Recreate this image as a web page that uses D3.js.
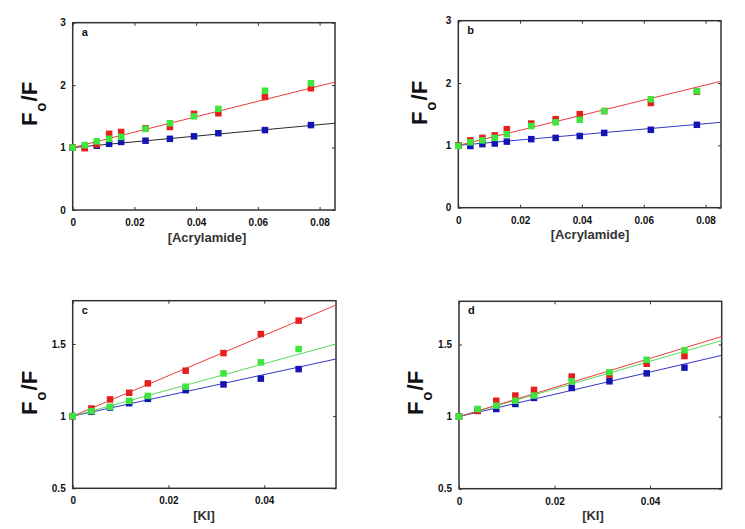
<!DOCTYPE html>
<html>
<head>
<meta charset="utf-8">
<script src="https://cdn.jsdelivr.net/npm/d3@7"></script>
<style>
  body { margin: 0; background: #fff; }
  svg { display: block; font-family: "Liberation Sans", Arial, sans-serif; }
</style>
</head>
<body>
<svg id="chart" width="745" height="529"></svg>
<script>
// ---------- data ----------
const xAcrylamide = [0, 0.0039, 0.0078, 0.0118, 0.0157, 0.0236, 0.0315, 0.0393, 0.0472, 0.0623, 0.0772];
const xKI = [0, 0.0039, 0.0078, 0.0118, 0.0157, 0.0236, 0.0315, 0.0393, 0.0472];

const blueA  = [1.00, 1.01, 1.03, 1.06, 1.09, 1.11, 1.14, 1.18, 1.23, 1.28, 1.36];
const redA   = [1.00, 0.99, 1.05, 1.22, 1.25, 1.31, 1.33, 1.54, 1.55, 1.81, 1.95];
const greenA = [1.00, 1.04, 1.10, 1.14, 1.17, 1.30, 1.39, 1.50, 1.62, 1.91, 2.03];

const blueB  = [1.00, 0.99, 1.02, 1.03, 1.06, 1.10, 1.12, 1.15, 1.20, 1.25, 1.33];
const redB   = [1.00, 1.08, 1.12, 1.16, 1.26, 1.35, 1.42, 1.50, 1.55, 1.68, 1.86];
const greenB = [0.99, 1.05, 1.08, 1.12, 1.18, 1.31, 1.37, 1.41, 1.55, 1.74, 1.87];

const blueC  = [1.00, 1.03, 1.06, 1.09, 1.12, 1.18, 1.22, 1.26, 1.326];
const redC   = [1.00, 1.053, 1.116, 1.162, 1.227, 1.315, 1.437, 1.569, 1.662];
const greenC = [1.00, 1.035, 1.065, 1.106, 1.14, 1.204, 1.296, 1.373, 1.465];

const blueD  = [1.00, 1.04, 1.053, 1.088, 1.13, 1.199, 1.245, 1.30, 1.34];
const redD   = [1.00, 1.04, 1.11, 1.146, 1.185, 1.278, 1.29, 1.367, 1.42];
const greenD = [1.00, 1.053, 1.076, 1.11, 1.146, 1.245, 1.308, 1.394, 1.46];

// Stern-Volmer fit slopes (F0/F = 1 + K[Q])
const ksvA = { red: 12.35, dark: 4.59 };
const ksvB = { red: 12.1, blue: 4.35 };
const ksvC = { red: 14.0, green: 9.09, blue: 7.2 };
const ksvD = { red: 10.1, green: 9.6, blue: 7.73 };

const xTicksAcr = [0, 0.02, 0.04, 0.06, 0.08];
const xTicksKI = [0, 0.02, 0.04];
const yTicksAcr = [0, 1, 2, 3];
const yTicksKI = [0.5, 1, 1.5];

// ---------- style ----------
const COL = {
  redPt: "#e61e1e", greenPt: "#3de63d", bluePt: "#1414b4",
  redLn: "#ee3c3c", greenLn: "#5ad85a", blueLn: "#3535c8", darkLn: "#2a2a2a"
};

const svg = d3.select("#chart");

const panels = [
  { id: "a", box: [72.7, 22.7, 335, 210], xd: [0, 0.085], yd: [0, 3], xt: xTicksAcr, yt: yTicksAcr,
    x: xAcrylamide, series: [["bluePt", blueA], ["redPt", redA], ["greenPt", greenA]],
    lines: [["darkLn", ksvA.dark], ["redLn", ksvA.red]], xlabel: "[Acrylamide]",
    xlab: [207, 242], ylab: [37, 104] },
  { id: "b", box: [458.3, 20.7, 721, 207.7], xd: [0, 0.085], yd: [0, 3], xt: xTicksAcr, yt: yTicksAcr,
    x: xAcrylamide, series: [["bluePt", blueB], ["redPt", redB], ["greenPt", greenB]],
    lines: [["blueLn", ksvB.blue], ["redLn", ksvB.red]], xlabel: "[Acrylamide]",
    xlab: [590, 239], ylab: [427, 103] },
  { id: "c", box: [72.7, 300.7, 336, 488.3], xd: [0, 0.055], yd: [0.5, 1.8], xt: xTicksKI, yt: yTicksKI,
    x: xKI, series: [["bluePt", blueC], ["redPt", redC], ["greenPt", greenC]],
    lines: [["blueLn", ksvC.blue], ["greenLn", ksvC.green], ["redLn", ksvC.red]], xlabel: "[KI]",
    xlab: [204, 520], ylab: [37, 393] },
  { id: "d", box: [459, 301.3, 721.7, 488.7], xd: [0, 0.055], yd: [0.5, 1.8], xt: xTicksKI, yt: yTicksKI,
    x: xKI, series: [["bluePt", blueD], ["redPt", redD], ["greenPt", greenD]],
    lines: [["blueLn", ksvD.blue], ["greenLn", ksvD.green], ["redLn", ksvD.red]], xlabel: "[KI]",
    xlab: [593, 520], ylab: [423, 393] }
];

const fmt = v => v === 0 ? "0" : String(v);

panels.forEach(p => {
  const [l, t, r, b] = p.box;
  const xs = d3.scaleLinear().domain(p.xd).range([l, r]);
  const ys = d3.scaleLinear().domain(p.yd).range([b, t]);
  const g = svg.append("g");

  const styleAxis = sel => {
    sel.select(".domain").remove();
    sel.selectAll("line").attr("stroke", "#333").attr("stroke-width", 1);
    sel.selectAll("text").attr("font-size", 10).attr("font-weight", "bold")
      .attr("fill", "#111").attr("font-family", "'Liberation Sans', Arial, sans-serif");
  };
  g.append("g").attr("transform", `translate(0,${b})`)
    .call(d3.axisBottom(xs).tickValues(p.xt).tickFormat(fmt).tickSizeInner(-3).tickSizeOuter(0).tickPadding(9))
    .call(styleAxis);
  g.append("g").attr("transform", `translate(0,${t})`)
    .call(d3.axisTop(xs).tickValues(p.xt).tickFormat("").tickSizeInner(-3).tickSizeOuter(0))
    .call(styleAxis);
  g.append("g").attr("transform", `translate(${l},0)`)
    .call(d3.axisLeft(ys).tickValues(p.yt).tickFormat(fmt).tickSizeInner(-3).tickSizeOuter(0).tickPadding(7))
    .call(styleAxis);
  g.append("g").attr("transform", `translate(${r},0)`)
    .call(d3.axisRight(ys).tickValues(p.yt).tickFormat("").tickSizeInner(-3).tickSizeOuter(0))
    .call(styleAxis);

  g.append("rect").attr("x", l).attr("y", t).attr("width", r - l).attr("height", b - t)
    .attr("fill", "none").attr("stroke", "#333").attr("stroke-width", 1.5);

  const lineGen = d3.line().x(d => xs(d[0])).y(d => ys(d[1]));
  p.lines.forEach(([c, k]) => {
    g.append("path").datum([[p.xd[0], 1], [p.xd[1], 1 + k * p.xd[1]]])
      .attr("d", lineGen).attr("fill", "none").attr("stroke", COL[c]).attr("stroke-width", 1);
  });

  const s = 6.5;
  p.series.forEach(([c, vals]) => {
    g.append("g").selectAll("rect").data(vals).join("rect")
      .attr("x", (d, i) => xs(p.x[i]) - s / 2).attr("y", d => ys(d) - s / 2)
      .attr("width", s).attr("height", s).attr("fill", COL[c]);
  });

  g.append("text").attr("x", l + 9).attr("y", t + 13).text(p.id)
    .attr("font-size", 11).attr("font-weight", "bold").attr("fill", "#111");

  g.append("text").attr("x", p.xlab[0]).attr("y", p.xlab[1]).attr("text-anchor", "middle")
    .attr("font-size", 13).attr("font-weight", "bold").attr("fill", "#333").text(p.xlabel);

  // y label  F_o/F
  const yl = g.append("text").attr("transform", `translate(${p.ylab[0]},${p.ylab[1]}) rotate(-90)`)
    .attr("text-anchor", "middle").attr("font-weight", "bold").attr("fill", "#111").attr("font-size", 22);
  yl.append("tspan").text("F");
  yl.append("tspan").attr("font-size", 15).attr("dy", 9).attr("dx", 1).text("o");
  yl.append("tspan").attr("dy", -9).attr("dx", 1).text("/F");
});
</script>
</body>
</html>
